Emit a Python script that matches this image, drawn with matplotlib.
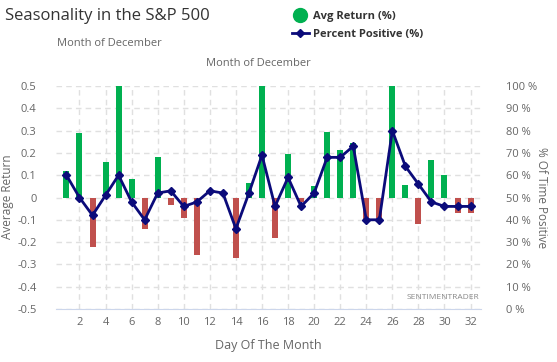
import matplotlib
matplotlib.use("Agg")
import matplotlib.pyplot as plt
from matplotlib.lines import Line2D
import numpy as np

plt.rcParams['font.family'] = ['Open Sans', 'DejaVu Sans']

days = list(range(1, 33))
avg_return = [0.12, 0.29, -0.22, 0.16, 0.62, 0.085, -0.14, 0.18, -0.035, -0.09,
              -0.26, 0.0, 0.0, -0.27, 0.065, 0.62, -0.18, 0.195, -0.02, 0.05,
              0.295, 0.215, 0.245, -0.10, -0.10, 0.62, 0.055, -0.12, 0.17, 0.10,
              -0.07, -0.07]
pct_positive = [60, 50, 42, 51, 60, 48, 40, 52, 53, 46,
                48, 53, 52, 36, 52, 69, 46, 59, 46, 52,
                68, 68, 73, 40, 40, 80, 64, 56, 48, 46,
                46, 46]
left_ticks = [-0.5, -0.4, -0.3, -0.2, -0.1, 0, 0.1, 0.2, 0.3, 0.4, 0.5]
left_labels = ['-0.5', '-0.4', '-0.3', '-0.2', '-0.1', '0', '0.1', '0.2', '0.3', '0.4', '0.5']
right_ticks = list(range(0, 101, 10))
right_labels = [f"{v} %" for v in right_ticks]
x_ticks = list(range(2, 33, 2))

GREEN = '#00b050'
RED = '#c0504d'
NAVY = '#0b0b7a'
TXT = '#666666'

W, H = 557, 362
fig = plt.figure(figsize=(W / 100, H / 100), dpi=100)
ax = fig.add_axes([56 / W, 1 - 309 / H, (481 - 56) / W, (309 - 86) / H])

colors = [GREEN if v >= 0 else RED for v in avg_return]
ax.bar(days, avg_return, width=0.46, color=colors, zorder=2)
ax.set_ylim(-0.5, 0.5)
ax.set_xlim(0.2, 32.8)
ax.set_yticks(left_ticks)
ax.set_yticklabels(left_labels)
ax.set_xticks(x_ticks)
ax.grid(True, color='#e0e0e0', linestyle=(0, (4, 3)), linewidth=1, zorder=0)
for s in ['top', 'right', 'left']:
    ax.spines[s].set_visible(False)
ax.spines['bottom'].set_color('#ccd6eb')
ax.tick_params(axis='both', colors=TXT, labelsize=8, length=0)
ax.tick_params(axis='y', pad=14)
ax.tick_params(axis='x', pad=6)
ax.set_axisbelow(True)

ax2 = ax.twinx()
ax2.plot(days, pct_positive, color=NAVY, linewidth=2, marker='D', markersize=4.5,
         zorder=3)
ax2.set_ylim(0, 100)
ax2.set_yticks(right_ticks)
ax2.set_yticklabels(right_labels)
for s in ['top', 'right', 'left', 'bottom']:
    ax2.spines[s].set_visible(False)
ax2.tick_params(axis='y', colors=TXT, labelsize=8, length=0, pad=18)

ax.set_xlabel('Day Of The Month', fontsize=9, color=TXT, labelpad=8)
fig.text(8 / W, 1 - 197 / H, 'Average Return', rotation=90, fontsize=8.5,
         color=TXT, ha='center', va='center')
fig.text(541 / W, 1 - 198 / H, '% Of Time Positive', rotation=270, fontsize=8.5,
         color=TXT, ha='center', va='center')

fig.text(5 / W, 1 - 16 / H, 'Seasonality in the S&P 500', fontsize=12,
         color='#333333', ha='left', va='center')
fig.text(57 / W, 1 - 43 / H, 'Month of December', fontsize=8,
         color=TXT, ha='left', va='center')
fig.text(258 / W, 1 - 63 / H, 'Month of December', fontsize=8,
         color=TXT, ha='center', va='center')
ax.text(0.995, 0.05, 'SENTIMENTRADER', transform=ax.transAxes, fontsize=6,
        color='#888888', ha='right', va='center')

handles = [Line2D([], [], color=GREEN, marker='o', linestyle='none', markersize=10),
           Line2D([], [], color=NAVY, marker='D', markersize=4, linewidth=2)]
leg = fig.legend(handles, ['Avg Return (%)', 'Percent Positive (%)'],
                 loc='upper left', bbox_to_anchor=(282 / W, 1 - 1 / H),
                 frameon=False, prop={'size': 8, 'weight': 'bold'},
                 handlelength=1.5, handletextpad=0.4, labelspacing=0.6)
for t in leg.get_texts():
    t.set_color('#333333')

fig.savefig('out.png', dpi=100)
